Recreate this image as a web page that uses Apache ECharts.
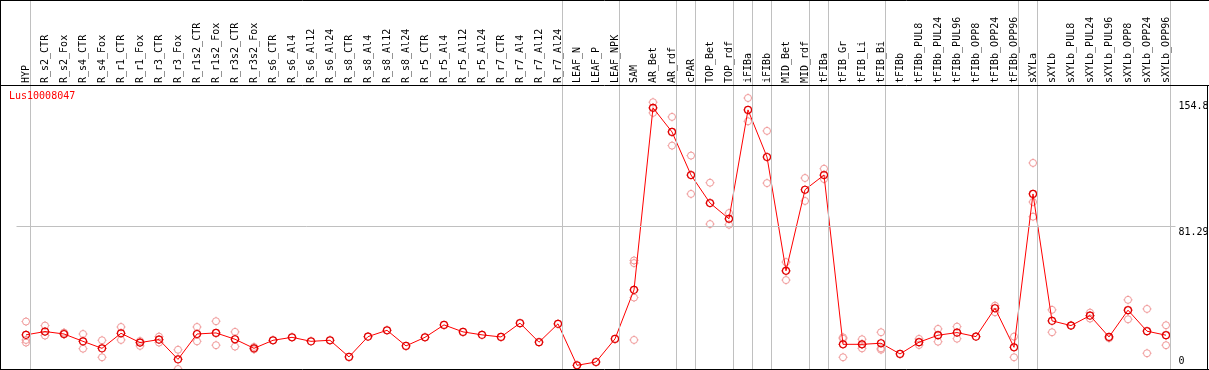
<!DOCTYPE html>
<html><head><meta charset="utf-8">
<script src="https://cdn.jsdelivr.net/npm/echarts@6/dist/echarts.min.js"></script>
<style>html,body{margin:0;padding:0;background:#fff}#c{width:1209px;height:370px}</style>
</head><body><div id="c"></div>
<script>
const geneName = 'Lus10008047';
const categories = ['HYP','R_s2_CTR','R_s2_Fox','R_s4_CTR','R_s4_Fox','R_r1_CTR','R_r1_Fox','R_r3_CTR','R_r3_Fox',
  'R_r1s2_CTR','R_r1s2_Fox','R_r3s2_CTR','R_r3s2_Fox','R_s6_CTR','R_s6_Al4','R_s6_Al12','R_s6_Al24',
  'R_s8_CTR','R_s8_Al4','R_s8_Al12','R_s8_Al24','R_r5_CTR','R_r5_Al4','R_r5_Al12','R_r5_Al24',
  'R_r7_CTR','R_r7_Al4','R_r7_Al12','R_r7_Al24','LEAF_N','LEAF_P','LEAF_NPK','SAM','AR_Bet','AR_rdf',
  'cPAR','TOP_Bet','TOP_rdf','iFIBa','iFIBb','MID_Bet','MID_rdf','tFIBa','tFIB_Gr','tFIB_Li','tFIB_Bi',
  'tFIBb','tFIBb_PUL8','tFIBb_PUL24','tFIBb_PUL96','tFIBb_OPP8','tFIBb_OPP24','tFIBb_OPP96',
  'sXYLa','sXYLb','sXYLb_PUL8','sXYLb_PUL24','sXYLb_PUL96','sXYLb_OPP8','sXYLb_OPP24','sXYLb_OPP96'];
const means = [19.5,21.4,20.0,15.8,11.8,20.4,15.1,16.8,5.5,20.0,20.6,17.0,11.8,16.4,18.1,
  15.8,16.4,6.9,18.5,22.1,13.2,18.1,25.2,21.2,19.5,18.3,26.2,15.3,25.8,
  2.1,4.0,17.2,45.2,
  149.2,135.4,110.8,94.8,85.8,148.0,121.1,56.1,102.4,110.8,
  14.1,14.1,14.7,8.6,15.3,19.3,20.8,18.5,34.7,12.4,
  100.0,27.5,24.8,30.5,18.3,33.6,21.6,19.3];
const N = null;
const rep1 = [27.1,24.8,20.8,20.0,16.4,24.0,16.0,18.5,11.0,24.0,27.3,21.2,12.6,N,N,
  N,N,N,N,N,N,N,N,N,N,N,N,N,N,
  N,N,N,62.0,
  152.4,144.0,121.9,106.4,89.1,154.8,136.0,61.1,109.1,114.4,
  18.1,17.0,21.0,N,17.2,22.9,24.2,N,36.2,18.5,
  117.7,33.8,25.0,32.2,17.6,39.5,34.3,25.0];
const rep2 = [16.6,19.1,19.8,11.6,6.7,16.6,13.2,15.1,0.0,15.8,13.6,12.8,11.2,N,N,
  N,N,N,N,N,N,N,N,N,N,N,N,N,N,
  N,N,N,60.5,
  146.3,127.6,100.0,82.8,82.4,141.5,106.2,50.8,96.0,108.5,
  6.7,11.8,11.8,N,13.7,15.6,17.3,N,32.4,6.7,
  95.4,21.0,N,28.8,N,28.4,9.0,13.6];
const rep3 = [15.1,N,N,N,N,N,N,N,N,N,N,N,N,N,N,
  N,N,N,N,N,N,N,N,N,N,N,N,N,N,
  N,N,N,40.8,
  N,N,N,N,N,N,N,N,N,N,
  17.3,14.1,11.0,N,N,N,N,N,N,N,
  87.0,N,N,N,N,N,N,N];
const rep4 = [N,N,N,N,N,N,N,N,N,N,N,N,N,N,N,
  N,N,N,N,N,N,N,N,N,N,N,N,N,N,
  N,N,N,16.6,
  N,N,N,N,N,N,N,N,N,N,
  N,N,N,N,N,N,N,N,N,N,
  N,N,N,N,N,N,N,N];
const yTickValues = [0, 81.29, 154.8];
// group separators are drawn just after these categories ('' = before the first one)
const separatorsAfter = ['', 'HYP','R_r7_Al24','LEAF_NPK','AR_rdf','cPAR','TOP_rdf','iFIBa','iFIBb',
  'MID_rdf','tFIBa','tFIB_Bi','tFIBb_OPP96','sXYLa','sXYLb_OPP96'];

const SEP_OFFSET = 0.237;
const sepX = separatorsAfter.map(n => (n === '' ? -1 : categories.indexOf(n)) + SEP_OFFSET);
const repPoints = [];
[rep1, rep2, rep3, rep4].forEach(arr => arr.forEach((v, i) => { if (v !== null) repPoints.push([i, v]); }));

const FONT = 'DejaVu Sans Mono';
const MARK = 'path://M0,-4.5L0,-3.5M0,3.5L0,4.5M-4.5,0L-3.5,0M3.5,0L4.5,0M3.5,0A3.5,3.5,0,1,1,-3.5,0A3.5,3.5,0,1,1,3.5,0Z';

const chart = echarts.init(document.getElementById('c'), null, {renderer: 'canvas'});
const frame = (x1, y1, x2, y2) => ({type: 'line', z: 100, silent: true,
  shape: {x1, y1, x2, y2}, style: {stroke: '#000', lineWidth: 1}});
chart.setOption({
  animation: false,
  backgroundColor: '#fff',
  title: {text: geneName, left: 9, top: 91, padding: 0,
    textStyle: {color: '#ff0000', fontSize: 10, fontWeight: 'normal', fontFamily: FONT}},
  grid: [
    {left: 16.5, right: 33.5, top: 0, bottom: 1, outerBoundsMode: 'none', containLabel: false},
    {left: 16.5, right: 33.5, top: 98, bottom: 1, outerBoundsMode: 'none', containLabel: false}
  ],
  xAxis: [
    {type: 'category', gridIndex: 1, data: categories, position: 'top', offset: 12, boundaryGap: true,
      axisLine: {show: false}, axisTick: {show: false}, splitLine: {show: false},
      axisLabel: {interval: 0, rotate: 90, margin: 3, fontFamily: FONT, fontSize: 10, color: '#000', hideOverlap: false}},
    {type: 'value', gridIndex: 0, min: -0.5, max: categories.length - 0.5, show: false}
  ],
  yAxis: [
    {type: 'value', gridIndex: 1, min: yTickValues[0], max: yTickValues[yTickValues.length - 1], position: 'right',
      axisLine: {show: false}, axisTick: {show: false}, splitLine: {show: false},
      axisLabel: {customValues: yTickValues, margin: 3, fontFamily: FONT, fontSize: 10, color: '#000', showMinLabel: true, showMaxLabel: true,
        formatter: v => {
          const key = v === yTickValues[0] ? 'b' : (v === yTickValues[yTickValues.length - 1] ? 't' : 'm');
          return '{' + key + '|' + String(v) + '}';
        },
        rich: {
          t: {fontFamily: FONT, fontSize: 10, color: '#000', padding: [17, 0, 0, 0]},
          m: {fontFamily: FONT, fontSize: 10, color: '#000', padding: [11, 0, 0, 0]},
          b: {fontFamily: FONT, fontSize: 10, color: '#000', padding: [0, 0, 15, 0]}
        }}},
    {type: 'value', gridIndex: 0, min: 0, max: 1, show: false}
  ],
  series: [
    {type: 'line', xAxisIndex: 1, yAxisIndex: 1, data: [], silent: true, z: 1,
      markLine: {symbol: 'none', silent: true, animation: false, label: {show: false},
        lineStyle: {color: '#c0c0c0', width: 1, type: 'solid'},
        emphasis: {disabled: true},
        data: sepX.map(x => ({xAxis: x}))}},
    {type: 'line', xAxisIndex: 0, yAxisIndex: 0, data: [], silent: true, z: 1,
      markLine: {symbol: 'none', silent: true, animation: false, label: {show: false},
        lineStyle: {color: '#c0c0c0', width: 1, type: 'solid'},
        emphasis: {disabled: true},
        data: [{yAxis: yTickValues[1]}]}},
    {type: 'scatter', xAxisIndex: 0, yAxisIndex: 0, data: repPoints, z: 2, silent: true,
      symbol: MARK, symbolSize: 9,
      itemStyle: {color: 'rgba(0,0,0,0)', borderColor: '#f09898', borderWidth: 1, opacity: 1}},
    {type: 'line', xAxisIndex: 0, yAxisIndex: 0, data: means, z: 3, silent: true,
      symbol: MARK, symbolSize: 9, showSymbol: true, showAllSymbol: true,
      lineStyle: {color: '#ff0000', width: 1},
      itemStyle: {color: 'rgba(0,0,0,0)', borderColor: '#e00000', borderWidth: 1.2}}
  ],
  graphic: [
    frame(0, 0.5, 1209, 0.5),
    frame(0.5, 0, 0.5, 370),
    frame(0, 85.5, 1209, 85.5),
    frame(1207.5, 85.5, 1207.5, 370),
    frame(0, 369.5, 1209, 369.5)
  ]
});
</script></body></html>
